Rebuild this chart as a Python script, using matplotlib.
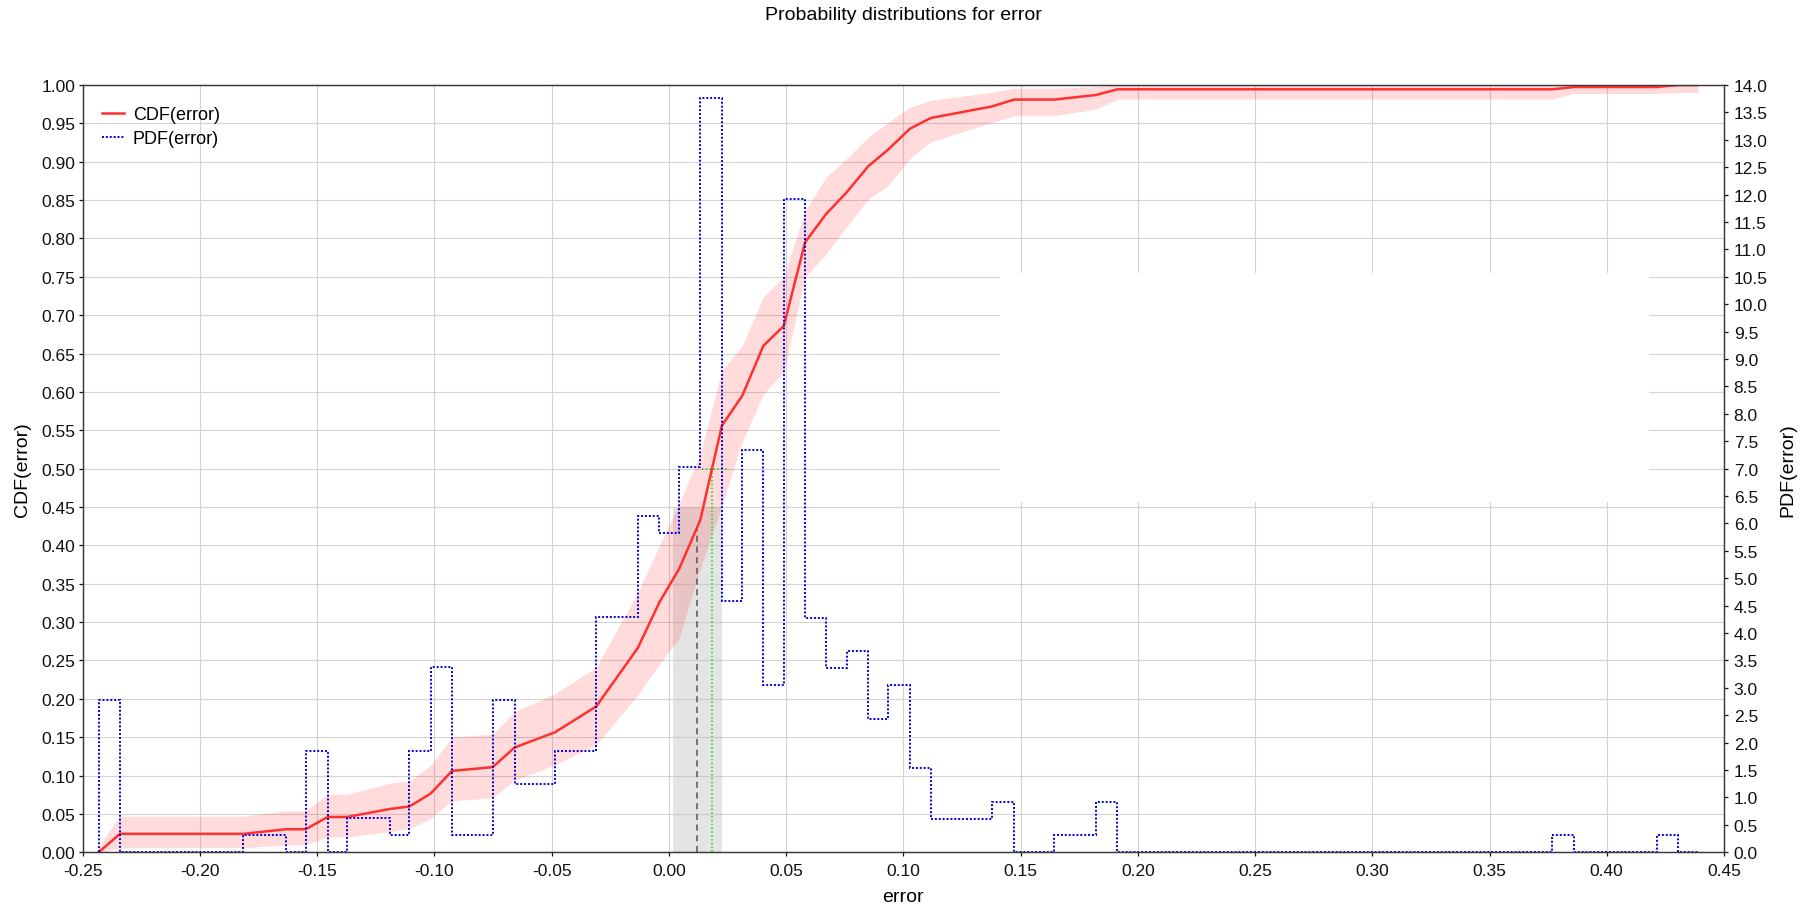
import numpy as np
import matplotlib.pyplot as plt
from matplotlib.patches import Rectangle

plt.rcParams['font.family'] = ['Liberation Sans', 'DejaVu Sans']
plt.rcParams['axes.unicode_minus'] = False

# histogram (PDF): bin edges and heights
pdf_edges = [-0.2432, -0.2341, -0.1815, -0.1634, -0.1549, -0.1455, -0.1372, -0.1189,
             -0.1107, -0.1016, -0.0925, -0.0751, -0.0658, -0.0485, -0.0310, -0.0133,
             -0.0040, 0.0045, 0.0134, 0.0226, 0.0313, 0.0403, 0.0490, 0.0581, 0.0671,
             0.0758, 0.0850, 0.0936, 0.1028, 0.1117, 0.1377, 0.1473, 0.1644, 0.1822,
             0.1913, 0.3768, 0.3861, 0.4213, 0.4305, 0.4390]
pdf_vals = [2.77, 0.0, 0.316, 0.0, 1.85, 0.0, 0.62, 0.316, 1.84, 3.38, 0.316, 2.77,
            1.24, 1.84, 4.29, 6.13, 5.82, 7.03, 13.76, 4.58, 7.34, 3.06, 11.92, 4.28,
            3.36, 3.67, 2.44, 3.06, 1.53, 0.61, 0.92, 0.0, 0.31, 0.92, 0.0, 0.31, 0.0,
            0.31, 0.0]

# CDF curve and its band
cdf_x = [-0.2432, -0.2341, -0.1815, -0.1634, -0.1549, -0.1455, -0.1372, -0.1189,
         -0.1107, -0.1016, -0.0925, -0.0751, -0.0658, -0.0485, -0.0310, -0.0133,
         -0.0040, 0.0045, 0.0134, 0.0226, 0.0313, 0.0403, 0.0490, 0.0581, 0.0671,
         0.0758, 0.0850, 0.0936, 0.1028, 0.1117, 0.1377, 0.1473, 0.1644, 0.1822,
         0.1913, 0.3768, 0.3861, 0.4213, 0.4305, 0.4390]
cdf_y = [0.0, 0.024, 0.024, 0.030, 0.030, 0.046, 0.046, 0.0565, 0.0596, 0.0765,
         0.106, 0.111, 0.1365, 0.1565, 0.190, 0.266, 0.326, 0.370, 0.433, 0.556,
         0.595, 0.660, 0.686, 0.795, 0.832, 0.860, 0.894, 0.916, 0.943, 0.957,
         0.972, 0.981, 0.981, 0.987, 0.9944, 0.9944, 0.9974, 0.9974, 1.0, 1.0]
cdf_hi = [0.008, 0.047, 0.047, 0.054, 0.054, 0.0757, 0.0757, 0.090, 0.093, 0.113,
          0.150, 0.154, 0.183, 0.207, 0.241, 0.338, 0.400, 0.455, 0.520, 0.628,
          0.660, 0.724, 0.750, 0.836, 0.880, 0.904, 0.932, 0.951, 0.971, 0.980,
          0.9905, 0.9957, 0.9957, 0.998, 1.0, 1.0, 1.0, 1.0, 1.0, 1.0]
cdf_lo = [0.0, 0.0056, 0.006, 0.0096, 0.0096, 0.020, 0.020, 0.027, 0.031, 0.044,
          0.067, 0.071, 0.094, 0.114, 0.140, 0.205, 0.245, 0.280, 0.370, 0.452,
          0.535, 0.597, 0.626, 0.750, 0.780, 0.815, 0.851, 0.869, 0.904, 0.926,
          0.951, 0.960, 0.960, 0.9687, 0.9817, 0.9817, 0.989, 0.989, 0.990, 0.990]

mean_err = 0.0119
mean_cdf = 0.421
median_err = 0.0185
ci_lo, ci_hi, ci_top = 0.0016, 0.0227, 0.45

fig = plt.figure(figsize=(18.13, 9.12), dpi=100)
ax = fig.add_axes([0.0456, 0.0644, 0.9053, 0.8413])
ax2 = ax.twinx()

ax.set_axisbelow(True)
ax.grid(True, color='#d4d4d4', lw=0.8)
ax.add_patch(Rectangle((0.1413, 0.457), 0.418 - 0.1413, 0.755 - 0.457,
                       facecolor='white', edgecolor='none', zorder=0.8))

ax.axvspan(ci_lo, ci_hi, ymin=0, ymax=ci_top, color='#c4c4c4', alpha=0.45, lw=0, zorder=0.9)
ax.fill_between(cdf_x, cdf_lo, cdf_hi, color='#ff2020', alpha=0.16, lw=0, zorder=1)
l_cdf, = ax.plot(cdf_x, cdf_y, color='#ff3030', lw=1.8, zorder=3, label='CDF(error)')
ax.vlines(mean_err, 0, mean_cdf, colors='#555555', lw=1.1, linestyles=(0, (4, 3)), zorder=2)
ax.vlines(median_err, 0, 0.5, colors='#00dd00', lw=1.1, linestyles=(0, (1, 1.5)), zorder=2)
ax.hlines(0.5, 0.014, 0.025, colors='#00dd00', lw=1.1, linestyles=(0, (1, 1.5)), zorder=2)

st = ax2.stairs(pdf_vals, pdf_edges, color='#0000dd', lw=1.4, linestyle=(0, (1, 1)))
l_pdf, = ax2.plot([], [], color='#0000dd', lw=1.4, linestyle=(0, (1, 1)), label='PDF(error)')

ax.set_xlim(-0.25, 0.45)
ax.set_ylim(0, 1)
ax2.set_ylim(0, 14)

xt = np.round(np.arange(-0.25, 0.4501, 0.05), 2) + 0.0
ax.set_xticks(xt)
ax.set_xticklabels(['%.2f' % v for v in xt])
yt = np.round(np.arange(0, 1.0001, 0.05), 2)
ax.set_yticks(yt)
ax.set_yticklabels(['%.2f' % v for v in yt])
y2 = np.arange(0, 14.001, 0.5)
ax2.set_yticks(y2)
ax2.set_yticklabels(['%.1f' % v for v in y2])

for a in (ax, ax2):
    for s in a.spines.values():
        s.set_color('#3a3a3a')
        s.set_linewidth(0.9)
ax.tick_params(axis='x', length=3, width=0.9, pad=5, labelsize=12.5, colors='#111111')
ax.tick_params(axis='y', length=3, width=0.9, pad=2.5, labelsize=12.5, colors='#111111')
ax2.tick_params(axis='y', length=3, width=0.9, pad=4, labelsize=12.5, colors='#111111')

ax.set_xlabel('error', fontsize=14)
ax.xaxis.set_label_coords(0.5, -0.0465)
ax.set_ylabel('CDF(error)', fontsize=14)
ax.yaxis.set_label_coords(-0.0312, 0.5)
ax2.set_ylabel('PDF(error)', fontsize=14)
ax2.yaxis.set_label_coords(1.0339, 0.5)

ax.legend(handles=[l_cdf, l_pdf], loc='upper left', bbox_to_anchor=(0.0118, 0.9725),
          frameon=False, fontsize=13, borderpad=0, borderaxespad=0,
          handlelength=1.2, handletextpad=0.5, labelspacing=0.38)

fig.text(0.4983, 1 - 16 / 912, 'Probability distributions for error', ha='center',
         va='center', fontsize=14)

fig.savefig('out.png', dpi=100)
